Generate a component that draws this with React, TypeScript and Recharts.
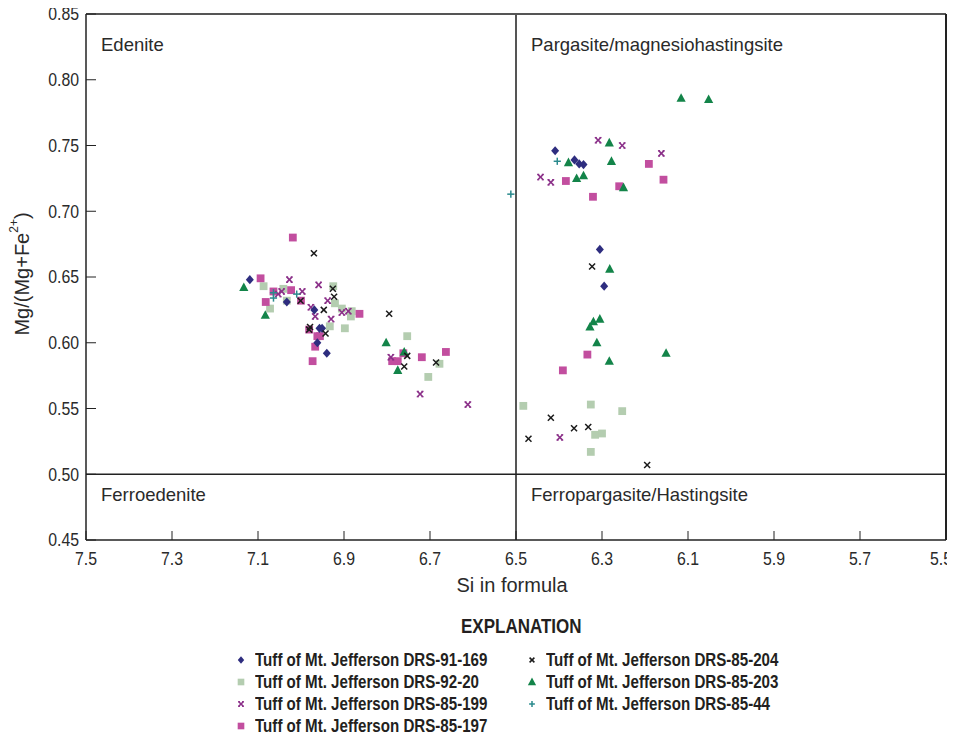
import React from 'react';
import {
  ScatterChart, Scatter, XAxis, YAxis, ReferenceLine, ReferenceArea,
} from 'recharts';

// Si in formula (x) and Mg/(Mg+Fe2+) (y) for each sample
const s91_169_si = [7.119, 7.033, 6.969, 6.957, 6.951, 6.962, 6.940, 6.409, 6.364, 6.353, 6.343, 6.305, 6.295];
const s91_169_mg = [0.648, 0.631, 0.625, 0.611, 0.611, 0.600, 0.592, 0.746, 0.739, 0.736, 0.7355, 0.671, 0.643];

const s92_20_si = [7.087, 7.041, 7.072, 7.033, 6.925, 6.921, 6.905, 6.884, 6.933, 6.898, 6.882, 6.753, 6.678, 6.704, 6.483, 6.326, 6.253, 6.316, 6.300, 6.326];
const s92_20_mg = [0.643, 0.641, 0.626, 0.632, 0.643, 0.630, 0.626, 0.620, 0.6125, 0.611, 0.624, 0.605, 0.584, 0.574, 0.552, 0.553, 0.548, 0.530, 0.531, 0.517];

const s85_199_si = [7.027, 6.959, 7.045, 7.053, 6.997, 6.938, 6.977, 6.967, 6.930, 6.905, 6.890, 6.791, 6.723, 6.612, 6.309, 6.253, 6.162, 6.443, 6.419, 6.398];
const s85_199_mg = [0.648, 0.644, 0.639, 0.637, 0.639, 0.632, 0.627, 0.620, 0.618, 0.623, 0.624, 0.589, 0.561, 0.553, 0.754, 0.750, 0.744, 0.726, 0.722, 0.528];

const s85_197_si = [7.019, 7.094, 7.064, 7.023, 7.082, 7.000, 6.864, 6.981, 6.962, 6.956, 6.967, 6.973, 6.788, 6.775, 6.762, 6.719, 6.663, 6.384, 6.321, 6.260, 6.191, 6.157, 6.334, 6.391];
const s85_197_mg = [0.680, 0.649, 0.639, 0.640, 0.631, 0.632, 0.622, 0.610, 0.605, 0.605, 0.597, 0.586, 0.586, 0.586, 0.592, 0.589, 0.593, 0.723, 0.711, 0.719, 0.736, 0.724, 0.591, 0.579];

const s85_204_si = [6.970, 6.926, 6.923, 7.001, 6.947, 6.979, 6.981, 6.943, 6.795, 6.753, 6.760, 6.686, 6.323, 6.419, 6.365, 6.332, 6.471, 6.195];
const s85_204_mg = [0.668, 0.641, 0.635, 0.632, 0.625, 0.612, 0.610, 0.607, 0.622, 0.590, 0.582, 0.585, 0.658, 0.543, 0.535, 0.536, 0.527, 0.507];

const s85_203_si = [7.133, 7.083, 6.802, 6.760, 6.775, 6.283, 6.378, 6.278, 6.359, 6.343, 6.250, 6.116, 6.052, 6.282, 6.320, 6.305, 6.328, 6.312, 6.283, 6.151];
const s85_203_mg = [0.642, 0.621, 0.600, 0.593, 0.579, 0.752, 0.737, 0.738, 0.725, 0.727, 0.718, 0.786, 0.785, 0.656, 0.616, 0.618, 0.612, 0.600, 0.586, 0.592];

const s85_44_si = [7.064, 7.064, 7.010, 6.404, 6.512];
const s85_44_mg = [0.638, 0.634, 0.637, 0.738, 0.713];

const xTicks = [7.5, 7.3, 7.1, 6.9, 6.7, 6.5, 6.3, 6.1, 5.9, 5.7, 5.5];
const yTicks = [0.45, 0.5, 0.55, 0.6, 0.65, 0.7, 0.75, 0.8, 0.85];

const pts = (si: number[], mg: number[]) => si.map((v, i) => ({ si: v, mg: mg[i] }));

const FONT = "'Liberation Sans', Arial, sans-serif";
const INK = '#2a2a2a';
const W = 955;

const C = {
  navy: '#2e2d7f',
  sage: '#b4cdb0',
  purple: '#8b3089',
  pink: '#c24e9f',
  black: '#1b1b1b',
  green: '#138449',
  teal: '#2a8a8d',
};

// marker shapes, s = scale
const Diamond = ({ cx, cy, s = 1 }: any) => (
  <path d={`M${cx},${cy - 4.6 * s}L${cx + 4 * s},${cy}L${cx},${cy + 4.6 * s}L${cx - 4 * s},${cy}Z`} fill={C.navy} />
);
const Square = ({ cx, cy, s = 1, fill }: any) => (
  <rect x={cx - 3.9 * s} y={cy - 3.9 * s} width={7.8 * s} height={7.8 * s} fill={fill} />
);
const Triangle = ({ cx, cy, s = 1 }: any) => (
  <path d={`M${cx},${cy - 5 * s}L${cx + 4.6 * s},${cy + 3.6 * s}L${cx - 4.6 * s},${cy + 3.6 * s}Z`} fill={C.green} />
);
const Cross = ({ cx, cy, s = 1 }: any) => (
  <g stroke={C.black} strokeWidth={1.5}>
    <line x1={cx - 3 * s} y1={cy - 3 * s} x2={cx + 3 * s} y2={cy + 3 * s} />
    <line x1={cx - 3 * s} y1={cy + 3 * s} x2={cx + 3 * s} y2={cy - 3 * s} />
  </g>
);
const Star = ({ cx, cy, s = 1 }: any) => {
  const a = 2.7 * s;
  const b = 3.4 * s;
  const c = 1.3 * s;
  return (
    <g stroke={C.purple} strokeWidth={1.6}>
      <line x1={cx - a} y1={cy - a} x2={cx + a} y2={cy + a} />
      <line x1={cx - a} y1={cy + a} x2={cx + a} y2={cy - a} />
      <g strokeWidth={1.2}>
        <line x1={cx - b} y1={cy - a} x2={cx - c} y2={cy - a} />
        <line x1={cx + c} y1={cy - a} x2={cx + b} y2={cy - a} />
        <line x1={cx - b} y1={cy + a} x2={cx - c} y2={cy + a} />
        <line x1={cx + c} y1={cy + a} x2={cx + b} y2={cy + a} />
      </g>
    </g>
  );
};
const Plus = ({ cx, cy, s = 1 }: any) => (
  <g stroke={C.teal} strokeWidth={1.5}>
    <line x1={cx - 3.6 * s} y1={cy} x2={cx + 3.6 * s} y2={cy} />
    <line x1={cx} y1={cy - 3.6 * s} x2={cx} y2={cy + 3.6 * s} />
  </g>
);

// condensed tick labels; keep the last one inside the picture
const XTick = ({ x, y, payload }: any) => (
  <g transform={`translate(${Math.min(x, W - 14)},${y})`}>
    <text transform="scale(0.88,1)" textAnchor="middle" dy="0.75em"
      fontFamily={FONT} fontSize={18} fill={INK}>{Number(payload.value).toFixed(1)}</text>
  </g>
);
const YTick = ({ x, y, payload }: any) => (
  <g transform={`translate(${x},${y})`}>
    <text transform="scale(0.88,1)" textAnchor="end" dy="0.36em"
      fontFamily={FONT} fontSize={18} fill={INK}>{Number(payload.value).toFixed(2)}</text>
  </g>
);

const RegionLabel = ({ viewBox, value, dy }: any) => (
  <text x={viewBox.x + 15} y={viewBox.y + dy} dominantBaseline="central"
    fontFamily={FONT} fontSize={18.5} fill={INK}>{value}</text>
);

const YLabel = ({ viewBox }: any) => {
  const x = viewBox.x + 22;
  const y = 274;
  return (
    <text x={x} y={y} transform={`rotate(-90, ${x}, ${y})`} textAnchor="middle" dominantBaseline="central"
      fontFamily={FONT} fontSize={20} fill={INK}>
      Mg/(Mg+Fe<tspan fontSize={12} dy={-8}>2+</tspan><tspan dy={8}>)</tspan>
    </text>
  );
};

const XLabel = ({ viewBox }: any) => (
  <text x={viewBox.x + viewBox.width / 2 - 4} y={viewBox.y + 45} textAnchor="middle" dominantBaseline="central"
    fontFamily={FONT} fontSize={20} fill={INK}>Si in formula</text>
);

const legendLeft = [
  { name: 'Tuff of Mt. Jefferson DRS-91-169', mark: (cx: number, cy: number) => <Diamond cx={cx} cy={cy} s={0.8} /> },
  { name: 'Tuff of Mt. Jefferson DRS-92-20', mark: (cx: number, cy: number) => <Square cx={cx} cy={cy} s={0.85} fill={C.sage} /> },
  { name: 'Tuff of Mt. Jefferson DRS-85-199', mark: (cx: number, cy: number) => <Star cx={cx} cy={cy} s={0.85} /> },
  { name: 'Tuff of Mt. Jefferson DRS-85-197', mark: (cx: number, cy: number) => <Square cx={cx} cy={cy} s={0.85} fill={C.pink} /> },
];
const legendRight = [
  { name: 'Tuff of Mt. Jefferson DRS-85-204', mark: (cx: number, cy: number) => <Cross cx={cx} cy={cy} s={0.8} /> },
  { name: 'Tuff of Mt. Jefferson DRS-85-203', mark: (cx: number, cy: number) => <Triangle cx={cx} cy={cy} s={0.9} /> },
  { name: 'Tuff of Mt. Jefferson DRS-85-44', mark: (cx: number, cy: number) => <Plus cx={cx} cy={cy} s={0.8} /> },
];

const LegendItem = ({ item, markX, top }: any) => (
  <>
    <svg width={14} height={14} style={{ position: 'absolute', left: markX - 7, top: top + 4 }}>{item.mark(7, 7)}</svg>
    <span style={{
      position: 'absolute', left: markX + 14, top, lineHeight: '22px', fontFamily: FONT, fontWeight: 'bold',
      fontSize: 18, color: '#231f20', whiteSpace: 'nowrap', transform: 'scaleX(0.84)', transformOrigin: '0 50%',
    }}>{item.name}</span>
  </>
);

const App = () => (
  <div style={{ position: 'relative', width: W, height: 736, margin: '-8px 0 0 -8px' }}>
    <ScatterChart width={W} height={608} margin={{ top: 14, right: 0, bottom: 0, left: 0 }}>
      <XAxis type="number" dataKey="si" domain={[5.5, 7.5]} reversed ticks={xTicks} interval={0}
        height={68} tickSize={-9} tickMargin={20} stroke="#222" tick={<XTick />}
        axisLine={{ stroke: '#222', strokeWidth: 1.5 }} label={<XLabel />} />
      <YAxis type="number" dataKey="mg" domain={[0.45, 0.85]} ticks={yTicks} interval={0}
        width={86} tickSize={-10} tickMargin={17} stroke="#222" tick={<YTick />}
        axisLine={{ stroke: '#222', strokeWidth: 1.5 }} label={<YLabel />} />
      <YAxis yAxisId="r" orientation="right" type="number" domain={[0.45, 0.85]} ticks={yTicks}
        interval={0} width={9} tickSize={-8} tick={false} stroke="#222"
        axisLine={{ stroke: '#222', strokeWidth: 2 }} />
      <ReferenceLine y={0.85} stroke="#555" strokeWidth={2} />
      <ReferenceLine x={6.5} stroke="#555" strokeWidth={2} />
      <ReferenceLine y={0.5} stroke="#222" strokeWidth={1.5} />

      <ReferenceArea x1={7.5} x2={6.5} y1={0.5} y2={0.85} fillOpacity={0} strokeOpacity={0}
        label={<RegionLabel value="Edenite" dy={30} />} />
      <ReferenceArea x1={6.5} x2={5.5} y1={0.5} y2={0.85} fillOpacity={0} strokeOpacity={0}
        label={<RegionLabel value="Pargasite/magnesiohastingsite" dy={30} />} />
      <ReferenceArea x1={7.5} x2={6.5} y1={0.45} y2={0.5} fillOpacity={0} strokeOpacity={0}
        label={<RegionLabel value="Ferroedenite" dy={20} />} />
      <ReferenceArea x1={6.5} x2={5.5} y1={0.45} y2={0.5} fillOpacity={0} strokeOpacity={0}
        label={<RegionLabel value="Ferropargasite/Hastingsite" dy={20} />} />

      <Scatter name="Tuff of Mt. Jefferson DRS-92-20" data={pts(s92_20_si, s92_20_mg)} fill={C.sage}
        shape={(p: any) => <Square cx={p.cx} cy={p.cy} fill={C.sage} />} isAnimationActive={false} />
      <Scatter name="Tuff of Mt. Jefferson DRS-85-197" data={pts(s85_197_si, s85_197_mg)} fill={C.pink}
        shape={(p: any) => <Square cx={p.cx} cy={p.cy} fill={C.pink} />} isAnimationActive={false} />
      <Scatter name="Tuff of Mt. Jefferson DRS-85-199" data={pts(s85_199_si, s85_199_mg)} fill={C.purple}
        shape={(p: any) => <Star cx={p.cx} cy={p.cy} />} isAnimationActive={false} />
      <Scatter name="Tuff of Mt. Jefferson DRS-91-169" data={pts(s91_169_si, s91_169_mg)} fill={C.navy}
        shape={(p: any) => <Diamond cx={p.cx} cy={p.cy} />} isAnimationActive={false} />
      <Scatter name="Tuff of Mt. Jefferson DRS-85-203" data={pts(s85_203_si, s85_203_mg)} fill={C.green}
        shape={(p: any) => <Triangle cx={p.cx} cy={p.cy} />} isAnimationActive={false} />
      <Scatter name="Tuff of Mt. Jefferson DRS-85-204" data={pts(s85_204_si, s85_204_mg)} fill={C.black}
        shape={(p: any) => <Cross cx={p.cx} cy={p.cy} />} isAnimationActive={false} />
      <Scatter name="Tuff of Mt. Jefferson DRS-85-44" data={pts(s85_44_si, s85_44_mg)} fill={C.teal}
        shape={(p: any) => <Plus cx={p.cx} cy={p.cy} />} isAnimationActive={false} />
    </ScatterChart>

    <div style={{ position: 'absolute', left: 452, top: 614, width: 120, textAlign: 'center',
      fontFamily: FONT, fontWeight: 'bold', fontSize: 20, color: '#231f20', lineHeight: '24px',
      transform: 'scaleX(0.85)', whiteSpace: 'nowrap' }}>
      EXPLANATION
    </div>
    {legendLeft.map((it, i) => (
      <LegendItem key={it.name} item={it} markX={241} top={649 + i * 22} />
    ))}
    {legendRight.map((it, i) => (
      <LegendItem key={it.name} item={it} markX={532} top={649 + i * 22} />
    ))}
  </div>
);

export default App;
